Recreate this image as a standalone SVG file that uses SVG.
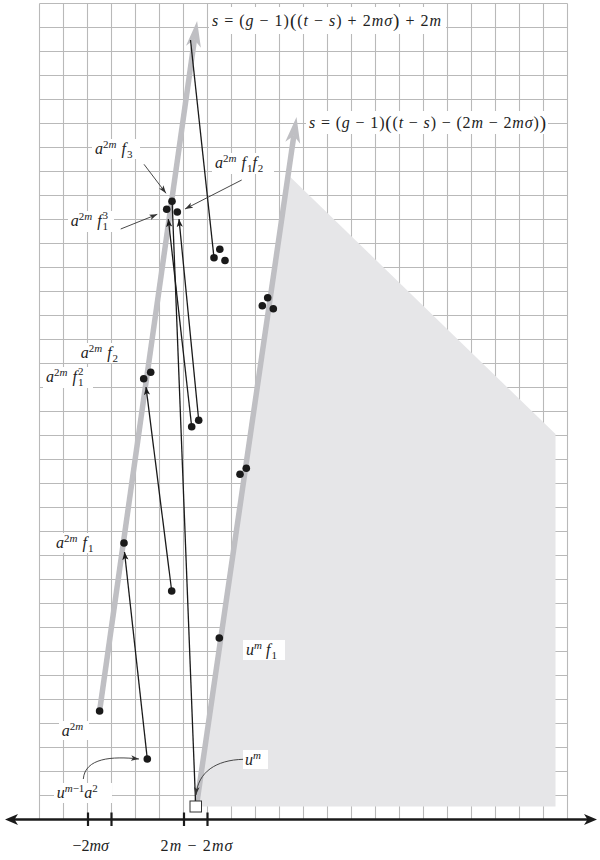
<svg xmlns="http://www.w3.org/2000/svg" width="600" height="860" viewBox="0 0 600 860">
<style>
.grid{stroke:#b9b9b9;stroke-width:1.1;fill:none}
.shade{fill:#e6e6e8}
.garrow{stroke:#bfbfc3;stroke-width:5.5;fill:none}
.ghead{fill:#bfbfc3}
.bl{stroke:#1a1a1a;stroke-width:1.3;fill:none}
.thin{stroke:#333;stroke-width:0.9;fill:none}
.dot{fill:#1a1a1a}
.bg{fill:#fff}
.t{font-family:"Liberation Serif","Times New Roman",serif;font-size:16px;fill:#222}
.i{font-style:italic}
.s{font-size:11px}
.big{font-size:19px}
.axis{stroke:#1a1a1a;stroke-width:2.4}
</style>
<defs>
<marker id="ah" markerWidth="9" markerHeight="8" refX="8" refY="4" orient="auto" markerUnits="userSpaceOnUse"><path d="M0,0.9 L8,4 L0,7.1 L2,4 Z" fill="#1a1a1a"/></marker>
<marker id="ah2" markerWidth="9" markerHeight="8" refX="8" refY="4" orient="auto" markerUnits="userSpaceOnUse"><path d="M0,1.2 L8,4 L0,6.8 L2,4 Z" fill="#333"/></marker>
</defs>
<g id="grid">
<path class="grid" d="M39.5 3.5V819.5M63.5 3.5V819.5M87.5 3.5V819.5M111.5 3.5V819.5M135.5 3.5V819.5M159.5 3.5V819.5M183.5 3.5V819.5M207.5 3.5V819.5M231.5 3.5V819.5M255.5 3.5V819.5M279.5 3.5V819.5M303.5 3.5V819.5M327.5 3.5V819.5M351.5 3.5V819.5M375.5 3.5V819.5M399.5 3.5V819.5M423.5 3.5V819.5M447.5 3.5V819.5M471.5 3.5V819.5M495.5 3.5V819.5M519.5 3.5V819.5M543.5 3.5V819.5M567.5 3.5V819.5
M39.5 3.5H567.5M39.5 27.5H567.5M39.5 51.5H567.5M39.5 75.5H567.5M39.5 99.5H567.5M39.5 123.5H567.5M39.5 147.5H567.5M39.5 171.5H567.5M39.5 195.5H567.5M39.5 219.5H567.5M39.5 243.5H567.5M39.5 267.5H567.5M39.5 291.5H567.5M39.5 315.5H567.5M39.5 339.5H567.5M39.5 363.5H567.5M39.5 387.5H567.5M39.5 411.5H567.5M39.5 435.5H567.5M39.5 459.5H567.5M39.5 483.5H567.5M39.5 507.5H567.5M39.5 531.5H567.5M39.5 555.5H567.5M39.5 579.5H567.5M39.5 603.5H567.5M39.5 627.5H567.5M39.5 651.5H567.5M39.5 675.5H567.5M39.5 699.5H567.5M39.5 723.5H567.5M39.5 747.5H567.5M39.5 771.5H567.5M39.5 795.5H567.5"/>
</g>
<g id="region">
<polygon class="shade" points="196.3,806.5 288.2,175 555.5,434 555.5,806.5"/>
</g>
<g id="axis">
<line class="axis" x1="12" y1="819.5" x2="590" y2="819.5"/>
<polygon points="5,819.5 18,814 14.5,819.5 18,825" fill="#1a1a1a"/>
<polygon points="597,819.5 584,814 587.5,819.5 584,825" fill="#1a1a1a"/>
<path stroke="#1a1a1a" stroke-width="2.2" d="M88 812.5V826M111.5 812.5V826M184 812.5V826M207.5 812.5V826"/>
<text class="t" x="72.5" y="851"><tspan>−2</tspan><tspan class="i">mσ</tspan></text>
<text class="t" x="160.5" y="851" textLength="72" lengthAdjust="spacing"><tspan>2</tspan><tspan class="i">m</tspan> − 2<tspan class="i">mσ</tspan></text>
</g>
<g id="line-upper">
<line class="garrow" x1="99.6" y1="711" x2="194.4" y2="39.8"/>
<polygon class="ghead" points="197.1,21 200.9,47.8 194.4,39.8 186,45.7"/>
</g>
<g id="line-lower">
<line class="garrow" x1="197" y1="802" x2="293.8" y2="135.8"/>
<polygon class="ghead" points="296.5,117 300.2,143.8 293.8,135.8 285.3,141.7"/>
</g>
<g id="connectors">
<line class="bl" x1="147.3" y1="759" x2="124.5" y2="552" marker-end="url(#ah)"/>
<line class="bl" x1="171.7" y1="591" x2="146" y2="387" marker-end="url(#ah)"/>
<line class="bl" x1="191.7" y1="426.7" x2="168.3" y2="219" marker-end="url(#ah)"/>
<line class="bl" x1="198.7" y1="420.3" x2="179" y2="219" marker-end="url(#ah)"/>
<line class="bl" x1="195.5" y1="801" x2="172.2" y2="203"/>
<line class="bl" x1="214" y1="257.7" x2="190.5" y2="40"/>
<line class="thin" x1="144" y1="164.3" x2="166" y2="193.3" marker-end="url(#ah2)"/>
<line class="thin" x1="241.7" y1="180" x2="185" y2="209" marker-end="url(#ah2)"/>
<line class="thin" x1="120.7" y1="229" x2="157.3" y2="214.3" marker-end="url(#ah2)"/>
<path class="thin" d="M83.3,779 C85,758 112,756 139,759" marker-end="url(#ah2)"/>
<path class="thin" d="M243.3,759.3 C216,760 198,772 196,795" marker-end="url(#ah2)"/>
</g>
<g id="start">
<rect x="190" y="801" width="11.5" height="11" fill="#fff" stroke="#333" stroke-width="1"/>
</g>
<g id="dots">
<g id="d-a2m"><circle class="dot" cx="99.6" cy="711" r="3.8"/></g>
<g id="d-um1a2"><circle class="dot" cx="147.3" cy="759" r="3.8"/></g>
<g id="d-a2mf1"><circle class="dot" cx="124" cy="543" r="3.8"/></g>
<g id="d-mid1"><circle class="dot" cx="171.7" cy="591" r="3.8"/></g>
<g id="d-a2mf12"><circle class="dot" cx="143.7" cy="378.7" r="3.8"/></g>
<g id="d-a2mf2"><circle class="dot" cx="150.7" cy="372.3" r="3.8"/></g>
<g id="d-mid2"><circle class="dot" cx="191.7" cy="426.7" r="3.8"/></g>
<g id="d-mid3"><circle class="dot" cx="198.7" cy="420.3" r="3.8"/></g>
<g id="d-a2mf13"><circle class="dot" cx="166.7" cy="209.3" r="3.8"/></g>
<g id="d-a2mf3"><circle class="dot" cx="172" cy="201.3" r="3.8"/></g>
<g id="d-a2mf1f2"><circle class="dot" cx="177.3" cy="212" r="3.8"/></g>
<g id="d-c1"><circle class="dot" cx="214" cy="257.7" r="3.8"/></g>
<g id="d-c2"><circle class="dot" cx="219.8" cy="249.3" r="3.8"/></g>
<g id="d-c3"><circle class="dot" cx="225" cy="260.5" r="3.8"/></g>
<g id="d-c4"><circle class="dot" cx="262.3" cy="305.7" r="3.8"/></g>
<g id="d-c5"><circle class="dot" cx="267.7" cy="297.7" r="3.8"/></g>
<g id="d-c6"><circle class="dot" cx="273.3" cy="308.7" r="3.8"/></g>
<g id="d-c7"><circle class="dot" cx="240" cy="474.3" r="3.8"/></g>
<g id="d-c8"><circle class="dot" cx="246.3" cy="468.3" r="3.8"/></g>
<g id="d-umf1"><circle class="dot" cx="219.3" cy="638" r="3.8"/></g>
</g>
<g id="label-upper">
<rect class="bg" x="209" y="7" width="237" height="27"/>
<text class="t" x="212" y="26" textLength="229" lengthAdjust="spacing"><tspan class="i">s</tspan> = (<tspan class="i">g</tspan> − 1)<tspan class="big" dy="1">(</tspan><tspan dy="-1">(</tspan><tspan class="i">t</tspan> − <tspan class="i">s</tspan>) + 2<tspan class="i">mσ</tspan><tspan class="big" dy="1">)</tspan><tspan dy="-1"> + 2</tspan><tspan class="i">m</tspan></text>
</g>
<g id="label-lower">
<rect class="bg" x="306" y="111" width="242" height="23"/>
<text class="t" x="309" y="128" textLength="237" lengthAdjust="spacing"><tspan class="i">s</tspan> = (<tspan class="i">g</tspan> − 1)<tspan class="big" dy="1">(</tspan><tspan dy="-1">(</tspan><tspan class="i">t</tspan> − <tspan class="i">s</tspan>) − (2<tspan class="i">m</tspan> − 2<tspan class="i">mσ</tspan>)<tspan class="big" dy="1">)</tspan></text>
</g>
<g id="label-a2mf3">
<rect class="bg" x="92" y="139" width="48" height="20"/>
<text class="t" x="95" y="154"><tspan class="i">a</tspan><tspan class="s" dy="-6.5">2</tspan><tspan class="s i">m</tspan><tspan class="i" dx="5" dy="6.5">f</tspan><tspan class="s" dx="1" dy="3.5">3</tspan></text>
</g>
<g id="label-a2mf1f2">
<rect class="bg" x="212" y="153" width="62" height="21"/>
<text class="t" x="215" y="168.3"><tspan class="i">a</tspan><tspan class="s" dy="-6.5">2</tspan><tspan class="s i">m</tspan><tspan class="i" dx="5" dy="6.5">f</tspan><tspan class="s" dx="1" dy="3.5">1</tspan><tspan class="i" dy="-3.5">f</tspan><tspan class="s" dx="1" dy="3.5">2</tspan></text>
</g>
<g id="label-a2mf13">
<rect class="bg" x="68" y="211" width="46" height="21"/>
<text class="t" x="70.7" y="226"><tspan class="i">a</tspan><tspan class="s" dy="-6.5">2</tspan><tspan class="s i">m</tspan><tspan class="i" dx="5" dy="6.5">f</tspan><tspan class="s" dx="1" dy="3.5">1</tspan><tspan class="s" dx="-5.5" dy="-10.5">3</tspan></text>
</g>
<g id="label-a2mf2">
<rect class="bg" x="78" y="343" width="45" height="20"/>
<text class="t" x="80.7" y="358.3"><tspan class="i">a</tspan><tspan class="s" dy="-6.5">2</tspan><tspan class="s i">m</tspan><tspan class="i" dx="5" dy="6.5">f</tspan><tspan class="s" dx="1" dy="3.5">2</tspan></text>
</g>
<g id="label-a2mf12">
<rect class="bg" x="43" y="367" width="50" height="21"/>
<text class="t" x="46" y="382.3"><tspan class="i">a</tspan><tspan class="s" dy="-6.5">2</tspan><tspan class="s i">m</tspan><tspan class="i" dx="5" dy="6.5">f</tspan><tspan class="s" dx="1" dy="3.5">1</tspan><tspan class="s" dx="-5.5" dy="-10.5">2</tspan></text>
</g>
<g id="label-a2mf1">
<rect class="bg" x="53" y="533" width="46" height="20"/>
<text class="t" x="56" y="548.3"><tspan class="i">a</tspan><tspan class="s" dy="-6.5">2</tspan><tspan class="s i">m</tspan><tspan class="i" dx="5" dy="6.5">f</tspan><tspan class="s" dx="1" dy="3.5">1</tspan></text>
</g>
<g id="label-umf1">
<rect class="bg" x="243" y="640" width="42" height="20"/>
<text class="t" x="246" y="655"><tspan class="i">u</tspan><tspan class="s i" dy="-6.5">m</tspan><tspan class="i" dx="4" dy="6.5">f</tspan><tspan class="s" dx="1" dy="3.5">1</tspan></text>
</g>
<g id="label-a2m">
<rect class="bg" x="59" y="721" width="30" height="19"/>
<text class="t" x="61.7" y="736"><tspan class="i">a</tspan><tspan class="s" dy="-6.5">2</tspan><tspan class="s i">m</tspan></text>
</g>
<g id="label-um1a2">
<rect class="bg" x="54" y="783" width="58" height="20"/>
<text class="t" x="56.7" y="798.3"><tspan class="i">u</tspan><tspan class="s i" dy="-6.5">m</tspan><tspan class="s">−1</tspan><tspan class="i" dy="6.5">a</tspan><tspan class="s" dy="-6.5">2</tspan></text>
</g>
<g id="label-um">
<rect class="bg" x="243" y="750" width="25" height="19"/>
<text class="t" x="245" y="765.3"><tspan class="i">u</tspan><tspan class="s i" dy="-6.5">m</tspan></text>
</g>
</svg>
